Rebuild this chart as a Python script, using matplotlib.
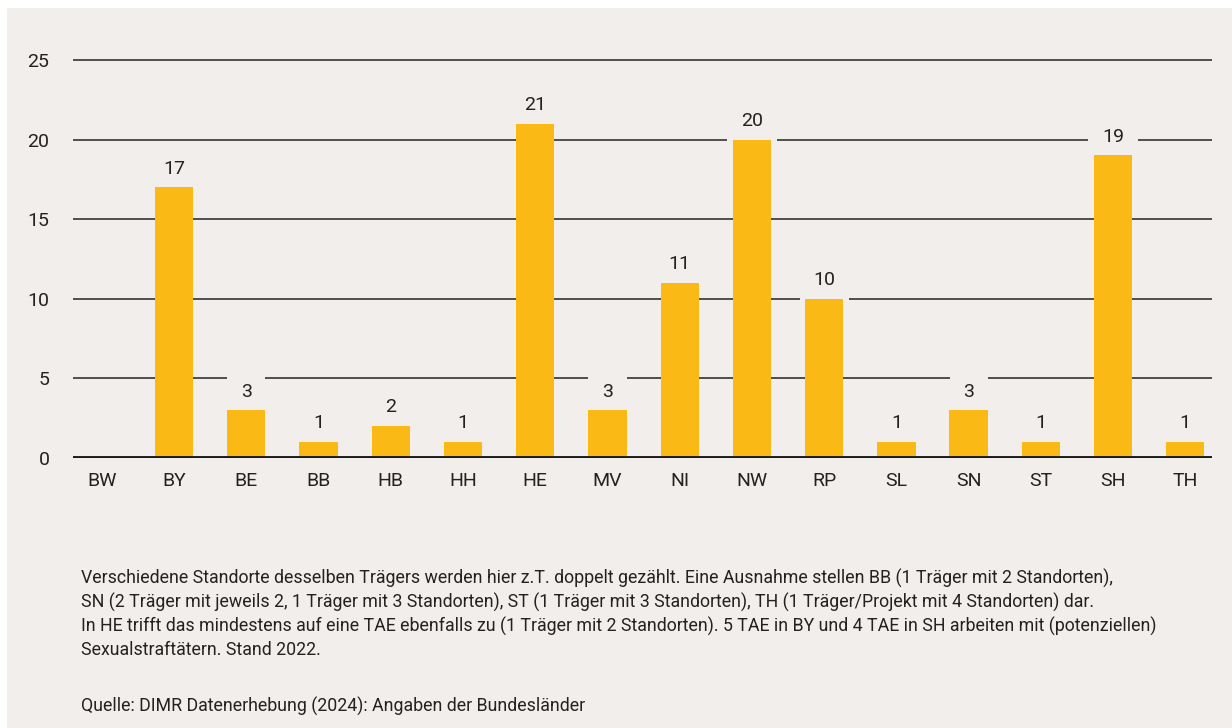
import matplotlib.pyplot as plt
from matplotlib.patches import Rectangle

plt.rcParams['font.family'] = ['Roboto', 'DejaVu Sans']

# data
laender = ['BW', 'BY', 'BE', 'BB', 'HB', 'HH', 'HE', 'MV', 'NI', 'NW',
           'RP', 'SL', 'SN', 'ST', 'SH', 'TH']
anzahl = [0, 17, 3, 1, 2, 1, 21, 3, 11, 20, 10, 1, 3, 1, 19, 1]
y_ticks = [0, 5, 10, 15, 20, 25]

notes = [
    'Verschiedene Standorte desselben Trägers werden hier z.T. doppelt gezählt. Eine Ausnahme stellen BB (1 Träger mit 2 Standorten),',
    'SN (2 Träger mit jeweils 2, 1 Träger mit 3 Standorten), ST (1 Träger mit 3 Standorten), TH (1 Träger/Projekt mit 4 Standorten) dar.',
    'In HE trifft das mindestens auf eine TAE ebenfalls zu (1 Träger mit 2 Standorten). 5 TAE in BY und 4 TAE in SH arbeiten mit (potenziellen)',
    'Sexualstraftätern. Stand 2022.',
]
quelle = 'Quelle: DIMR Datenerhebung (2024): Angaben der Bundesländer'

bg = '#f2eeeb'
bar_col = '#fbb916'
txt = '#222222'

fig = plt.figure(figsize=(12.32, 7.28), dpi=100, facecolor='white')
fig.patches.append(Rectangle((7 / 1232, 0), 1, 1 - 8 / 728, transform=fig.transFigure,
                             facecolor=bg, edgecolor='none', zorder=-5))

ax = fig.add_axes([73 / 1232, 270 / 728, (1212 - 73) / 1232, 414 / 728])
ax.set_zorder(2)
ax.patch.set_alpha(0)

x = list(range(len(laender)))
for t in y_ticks[1:]:
    ax.axhline(t, color='#333333', lw=1.2, zorder=1)
ax.axhline(0, color='#1a1a1a', lw=2.8, zorder=4)

ax.bar(x, anzahl, width=0.53, color=bar_col, zorder=3)

# value labels: box in background colour cuts the gridlines, bars drawn on top
for xi, v in zip(x, anzahl):
    if v == 0:
        continue
    ax.annotate(str(v), (xi, v), xytext=(0, 7), textcoords='offset points',
                ha='center', va='bottom', fontsize=14, color=txt, zorder=2,
                bbox=dict(boxstyle='square,pad=0.7', facecolor=bg, edgecolor='none'))

ax.set_xlim(-0.4, 15.37)
ax.set_ylim(0, 26)
ax.set_yticks(y_ticks)
ax.set_yticklabels([str(t) for t in y_ticks], fontsize=14, color=txt)
ax.set_xticks(x)
ax.set_xticklabels(laender, fontsize=14, color=txt)
ax.tick_params(length=0)
ax.tick_params(axis='y', pad=17)
ax.tick_params(axis='x', pad=10)
for s in ax.spines.values():
    s.set_visible(False)

for i, line in enumerate(notes):
    fig.text(81 / 1232, 1 - (578 + 24 * i) / 728, line, fontsize=12.8, color=txt,
             ha='left', va='center')
fig.text(81 / 1232, 1 - 706 / 728, quelle, fontsize=12.8, color=txt, ha='left', va='center')

fig.savefig('out.png', dpi=100, facecolor='white')
